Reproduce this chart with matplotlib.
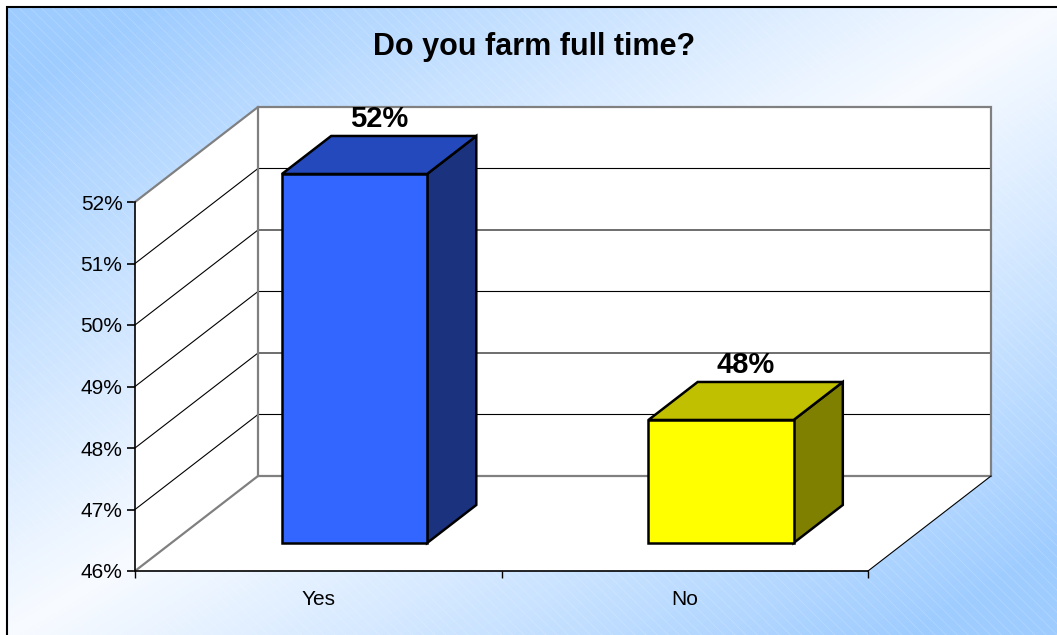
import numpy as np
import matplotlib
matplotlib.use("Agg")
import matplotlib.pyplot as plt
from matplotlib.patches import Polygon, Rectangle

# data
categories = ["Yes", "No"]
values = [52, 48]
value_labels = ["52%", "48%"]
y_ticks = [46, 47, 48, 49, 50, 51, 52]
title = "Do you farm full time?"

front_colors = ["#3366FF", "#FFFF00"]
top_colors = ["#2449BC", "#C0C000"]
side_colors = ["#1B327E", "#808000"]

plt.rcParams["font.family"] = ["Liberation Sans", "DejaVu Sans"]
plt.rcParams["hatch.linewidth"] = 0.6

W, H = 1057, 635
fig = plt.figure(figsize=(W / 100, H / 100), dpi=100)

# background gradient (blue corners top-left / bottom-right, white diagonal)
bg = fig.add_axes([8 / W, 0, 1 - 8 / W, 1 - 8 / H])
bg.set_axis_off()
xx, yy = np.meshgrid(np.linspace(0, 1, 400), np.linspace(0, 1, 240))
s = np.abs(xx + yy - 1.0)
s = np.clip(s * 1.15, 0, 1)
blue = np.array([158, 204, 255]) / 255
white = np.array([248, 251, 255]) / 255
img = white[None, None, :] * (1 - s[..., None]) + blue[None, None, :] * s[..., None]
bg.imshow(img, extent=[0, 1, 0, 1], origin="upper", aspect="auto")
bg.add_patch(Rectangle((0, 0), 1, 1, facecolor="none", edgecolor=(1, 1, 1, 0.18),
                       hatch="\\\\\\", lw=0, transform=bg.transAxes))
bg.set_xlim(0, 1)
bg.set_ylim(0, 1)
fig.add_artist(Rectangle((7 / W, -0.01), 1.01, 1 - 7 / H + 0.01, facecolor="none",
                         edgecolor="black", lw=1.5, transform=fig.transFigure))

# main axes = front plane of the 3d box
ax = fig.add_axes([135 / W, (H - 571) / H, 733 / W, 369 / H])
ax.set_xlim(0, 2)
ax.set_ylim(46, 52)
ax.patch.set_alpha(0)
for sp in ["top", "right"]:
    ax.spines[sp].set_visible(False)
ax.spines["left"].set_linewidth(1.2)
ax.spines["bottom"].set_linewidth(1.2)
ax.spines["left"].set_zorder(5)
ax.spines["bottom"].set_zorder(5)

# depth offsets in data units
Dx = 123 / (733 / 2)
Dy = 95 / (369 / 6)
lo, hi = y_ticks[0], y_ticks[-1]
gray = "#808080"

def P(x, y, t):
    return (x + t * Dx, y + t * Dy)

# walls
ax.add_patch(Polygon([P(0, lo, 1), P(2, lo, 1), P(2, hi, 1), P(0, hi, 1)],
                     closed=True, facecolor="white", edgecolor="none", clip_on=False, zorder=1))
ax.add_patch(Polygon([P(0, lo, 0), P(0, lo, 1), P(0, hi, 1), P(0, hi, 0)],
                     closed=True, facecolor="white", edgecolor="none", clip_on=False, zorder=1))
ax.add_patch(Polygon([P(0, lo, 0), P(2, lo, 0), P(2, lo, 1), P(0, lo, 1)],
                     closed=True, facecolor="white", edgecolor="none", clip_on=False, zorder=1))

# gridlines on side and back walls
for v in y_ticks[1:-1]:
    a, b = P(0, v, 0), P(0, v, 1)
    c = P(2, v, 1)
    ax.plot([a[0], b[0], c[0]], [a[1], b[1], c[1]], color="black", lw=0.8,
            clip_on=False, zorder=2)

# wall edges
edges = [
    [P(0, hi, 0), P(0, hi, 1), P(2, hi, 1), P(2, lo, 1), P(0, lo, 1), P(0, lo, 0)],
    [P(0, lo, 1), P(0, hi, 1)],
]
for e in edges:
    e = np.array(e)
    ax.plot(e[:, 0], e[:, 1], color=gray, lw=1.6, clip_on=False, zorder=2,
            solid_joinstyle="miter")
e = np.array([P(2, lo, 0), P(2, lo, 1)])
ax.plot(e[:, 0], e[:, 1], color="black", lw=0.8, clip_on=False, zorder=2)

# bars
bw = 0.396
t0, t1 = 0.295, 0.695
for i, v in enumerate(values):
    x0 = i + 0.5 - bw / 2
    x1 = x0 + bw
    front = [P(x0, lo, t0), P(x1, lo, t0), P(x1, v, t0), P(x0, v, t0)]
    top = [P(x0, v, t0), P(x1, v, t0), P(x1, v, t1), P(x0, v, t1)]
    side = [P(x1, lo, t0), P(x1, lo, t1), P(x1, v, t1), P(x1, v, t0)]
    for poly, col in [(side, side_colors[i]), (top, top_colors[i]), (front, front_colors[i])]:
        ax.add_patch(Polygon(poly, closed=True, facecolor=col, edgecolor="black",
                             lw=1.8, joinstyle="miter", clip_on=False, zorder=3))
    lx, ly = P(i + 0.5, v, (t0 + t1) / 2)
    ax.annotate(value_labels[i], xy=(lx, P(0, v, t1)[1]), xytext=(0, 2),
                textcoords="offset points", ha="center", va="bottom",
                fontsize=21, fontweight="bold", annotation_clip=False, zorder=6)

# axes ticks and labels
ax.set_yticks(y_ticks)
ax.set_yticklabels([f"{t}%" for t in y_ticks], fontsize=15)
ax.tick_params(axis="y", direction="out", length=6, width=1.2, pad=3)
ax.set_xticks([0.5, 1.5])
ax.set_xticklabels(categories, fontsize=15)
ax.set_xticks([0, 1, 2], minor=True)
ax.tick_params(axis="x", which="major", length=0, pad=14)
ax.tick_params(axis="x", which="minor", direction="out", length=5, width=1.0)

fig.text(534 / W, 1 - 47 / H, title, ha="center", va="center",
         fontsize=22, fontweight="bold")

fig.savefig("out.png", dpi=100)
